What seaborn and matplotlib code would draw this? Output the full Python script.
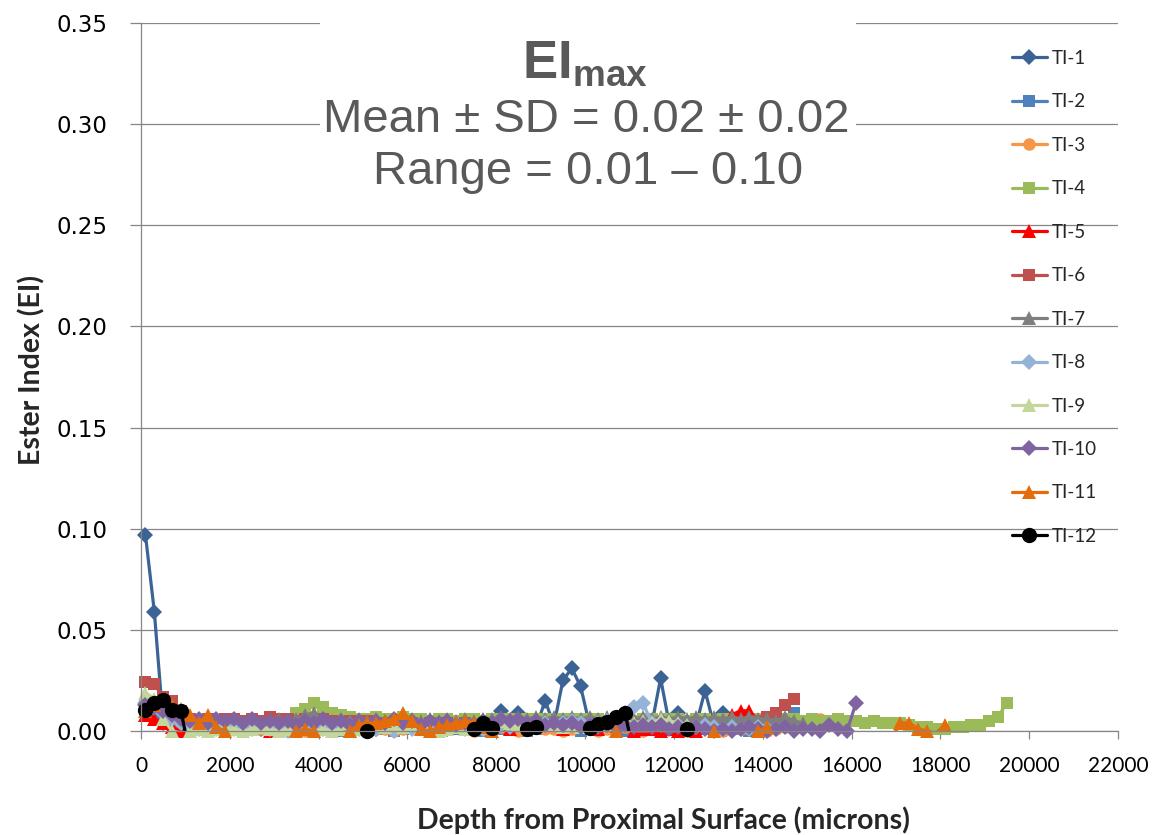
import matplotlib
matplotlib.use("Agg")
import matplotlib.pyplot as plt
from matplotlib.lines import Line2D
from matplotlib.patches import Rectangle
import numpy as np
import seaborn as sns

# ---------------- data ----------------
depth = [100, 300, 500, 700, 900, 1100, 1300, 1500, 1700, 1900,
         2100, 2300, 2500, 2700, 2900, 3100, 3300, 3500, 3700, 3900,
         4100, 4300, 4500, 4700, 4900, 5100, 5300, 5500, 5700, 5900,
         6100, 6300, 6500, 6700, 6900, 7100, 7300, 7500, 7700, 7900,
         8100, 8300, 8500, 8700, 8900, 9100, 9300, 9500, 9700, 9900,
         10100, 10300, 10500, 10700, 10900, 11100, 11300, 11500, 11700, 11900,
         12100, 12300, 12500, 12700, 12900, 13100, 13300, 13500, 13700, 13900,
         14100, 14300, 14500, 14700, 14900, 15100, 15300, 15500, 15700, 15900,
         16100, 16300, 16500, 16700, 16900, 17100, 17300, 17500, 17700, 17900,
         18100, 18300, 18500, 18700, 18900, 19100, 19300, 19500]

series_names = ["TI-1", "TI-2", "TI-3", "TI-4", "TI-5", "TI-6",
                "TI-7", "TI-8", "TI-9", "TI-10", "TI-11", "TI-12"]

ti1 = [0.097, 0.059, 0.004, 0.002, 0.003, 0.002, 0.003, 0.002, 0.002, 0.003,
       0.002, 0.003, 0.002, 0.001, 0.002, 0.003, 0.002, 0.002, 0.003, 0.002,
       0.002, 0.001, 0.002, 0.003, 0.002, 0.002, 0.001, 0.002, 0.003, 0.002,
       0.002, 0.003, 0.002, 0.002, 0.001, 0.002, 0.003, 0.002, 0.002, 0.003,
       0.010, 0.003, 0.009, 0.003, 0.002, 0.015, 0.003, 0.025, 0.031, 0.022,
       0.003, 0.002, 0.003, 0.002, 0.002, 0.003, 0.002, 0.003, 0.026, 0.003,
       0.009, 0.003, 0.003, 0.020, 0.003, 0.009, 0.002]

ti2 = [0.012, 0.009, 0.006, 0.004, 0.002, 0.001, 0.002, 0.000, 0.001, 0.002,
       0.001, 0.000, 0.002, 0.001, 0.001, 0.003, 0.001, 0.000, 0.002, 0.001,
       0.002, 0.001, 0.000, 0.001, 0.002, 0.001, 0.003, 0.001, 0.000, 0.001,
       0.002, 0.001, 0.001, 0.000, 0.002, 0.001, 0.001, 0.002, 0.000, 0.001,
       0.001, 0.002, 0.001, 0.000, 0.001, 0.002, 0.003, 0.001, 0.001, 0.000,
       0.001, 0.002, 0.001, 0.001, 0.000, 0.002, 0.001, 0.001, 0.002, 0.001,
       0.000, 0.001, 0.002, 0.001, 0.000, 0.001, 0.002, 0.001, 0.000, 0.001,
       0.001, 0.002, 0.003, 0.009]

ti3 = [0.010, 0.012, 0.011, 0.008, 0.004, 0.002, 0.001, 0.002, 0.001, 0.000,
       0.001, 0.002, 0.001, 0.001, 0.000, 0.001, 0.002, 0.001, 0.000, 0.001,
       0.001, 0.002, 0.001, 0.000, 0.001, 0.002, 0.001, 0.001, 0.000, 0.001,
       0.002, 0.001, 0.000, 0.001, 0.001, 0.002, 0.001, 0.000, 0.001, 0.001,
       0.002, 0.001, 0.000, 0.001, 0.002, 0.001, 0.001, 0.000, 0.001, 0.002,
       0.001, 0.000, 0.001, 0.001, 0.002, 0.001, 0.000, 0.001, 0.002, 0.001,
       0.001, 0.000, 0.001, 0.002, 0.001, 0.000, 0.001, 0.001, 0.002, 0.001,
       0.000, 0.001, 0.002, 0.001, 0.002, 0.003, 0.006, 0.003, 0.002]

ti4 = [0.013, 0.012, 0.011, 0.009, 0.006, 0.005, 0.005, 0.004, 0.005, 0.004,
       0.005, 0.004, 0.005, 0.004, 0.005, 0.005, 0.006, 0.009, 0.011, 0.014,
       0.012, 0.009, 0.008, 0.007, 0.006, 0.006, 0.007, 0.006, 0.006, 0.007,
       0.006, 0.006, 0.005, 0.006, 0.006, 0.005, 0.006, 0.006, 0.005, 0.006,
       0.006, 0.006, 0.005, 0.006, 0.006, 0.006, 0.005, 0.006, 0.006, 0.006,
       0.006, 0.006, 0.005, 0.006, 0.006, 0.005, 0.006, 0.006, 0.005, 0.006,
       0.006, 0.005, 0.006, 0.006, 0.005, 0.006, 0.006, 0.005, 0.006, 0.006,
       0.006, 0.005, 0.006, 0.006, 0.005, 0.006, 0.005, 0.005, 0.006, 0.005,
       0.005, 0.004, 0.005, 0.004, 0.004, 0.004, 0.003, 0.002, 0.002, 0.001,
       0.001, 0.002, 0.002, 0.003, 0.003, 0.005, 0.007, 0.014]

ti5 = [0.008, 0.006, 0.004, 0.002, 0.000, -0.002, -0.003, -0.004, -0.004, -0.003,
       -0.004, -0.003, -0.002, -0.001, 0.000, -0.001, -0.003, -0.004, -0.004, -0.004,
       -0.004, -0.004, -0.003, -0.004, -0.004, -0.004, -0.004, -0.003, -0.004, -0.004,
       -0.004, -0.003, -0.002, -0.001, -0.002, -0.003, -0.004, -0.004, -0.003, -0.002,
       -0.001, 0.001, 0.006, 0.004, 0.003, 0.005, 0.003, 0.001, -0.001, -0.002,
       -0.001, 0.001, -0.001, -0.002, -0.001, 0.000, 0.001, 0.001, 0.000, 0.001,
       0.000, -0.001, 0.000, 0.002, 0.003, 0.004, 0.008, 0.010, 0.010, 0.005,
       0.004, 0.003]

ti6 = [0.024, 0.023, 0.017, 0.015, 0.010, 0.006, 0.005, 0.006, 0.005, 0.006,
       0.006, 0.005, 0.006, 0.005, 0.007, 0.006, 0.006, 0.005, 0.006, 0.005,
       0.006, 0.005, 0.004, 0.005, 0.004, 0.005, 0.004, 0.003, 0.004, 0.003,
       0.004, 0.003, 0.004, 0.003, 0.004, 0.003, 0.004, 0.003, 0.003, 0.004,
       0.003, 0.004, 0.003, 0.003, 0.004, 0.003, 0.003, 0.004, 0.003, 0.003,
       0.004, 0.003, 0.003, 0.002, 0.003, 0.003, 0.002, 0.003, 0.003, 0.002,
       0.003, 0.002, 0.003, 0.003, 0.002, 0.003, 0.003, 0.004, 0.004, 0.005,
       0.007, 0.009, 0.013, 0.016]

ti7 = [0.016, 0.014, 0.012, 0.010, 0.007, 0.004, 0.005, 0.004, 0.005, 0.004,
       0.005, 0.004, 0.005, 0.004, 0.005, 0.006, 0.005, 0.006, 0.008, 0.009,
       0.006, 0.005, 0.006, 0.005, 0.006, 0.005, 0.006, 0.005, 0.006, 0.005,
       0.006, 0.005, 0.006, 0.005, 0.006, 0.005, 0.006, 0.005, 0.006, 0.006,
       0.007, 0.006, 0.007, 0.006, 0.007, 0.006, 0.007, 0.006, 0.007, 0.006,
       0.007, 0.006, 0.007, 0.006, 0.007, 0.006, 0.007, 0.006, 0.007, 0.006,
       0.007, 0.006, 0.007, 0.006, 0.007, 0.006, 0.007, 0.006, 0.007, 0.006,
       0.006, 0.005, 0.007, 0.005, 0.004]

ti8 = [0.014, 0.012, 0.009, 0.006, 0.004, 0.002, 0.001, 0.002, 0.001, 0.002,
       0.001, 0.003, 0.001, 0.002, 0.001, 0.002, 0.000, 0.002, 0.001, 0.002,
       0.001, 0.002, 0.001, 0.003, 0.001, 0.002, 0.001, 0.002, 0.000, 0.002,
       0.001, 0.002, 0.001, 0.002, 0.001, 0.003, 0.001, 0.002, 0.001, 0.002,
       0.003, 0.002, 0.003, 0.002, 0.003, 0.004, 0.003, 0.004, 0.005, 0.004,
       0.003, 0.004, 0.005, 0.006, 0.009, 0.012, 0.014, 0.004, 0.003, 0.002,
       0.003, 0.002, 0.002, 0.003, 0.002, 0.001, 0.002, 0.001, 0.001, 0.002,
       0.001, 0.001]

ti9 = [0.019, 0.016, 0.006, 0.000, -0.001, 0.000, 0.001, 0.000, 0.001, 0.002,
       0.001, 0.000, 0.001, 0.002, 0.001, 0.000, 0.001, 0.002, 0.001, 0.000,
       0.001, 0.000, 0.001, 0.000, 0.001, 0.002, 0.003, 0.002, 0.003, 0.002,
       0.003, 0.002, 0.001, 0.000, 0.001, 0.002, 0.001, 0.002, 0.003, 0.004,
       0.005, 0.004, 0.003, 0.004, 0.003, 0.004, 0.003, 0.002, 0.003, 0.002,
       0.003, 0.004, 0.003, 0.004, 0.005, 0.004, 0.005, 0.004, 0.006, 0.005,
       0.004, 0.003]

ti10 = [0.013, 0.012, 0.010, 0.008, 0.006, 0.005, 0.006, 0.004, 0.006, 0.005,
        0.006, 0.004, 0.006, 0.004, 0.005, 0.004, 0.005, 0.003, 0.005, 0.004,
        0.006, 0.004, 0.005, 0.003, 0.005, 0.003, 0.005, 0.004, 0.006, 0.004,
        0.005, 0.003, 0.005, 0.004, 0.005, 0.003, 0.004, 0.003, 0.005, 0.004,
        0.006, 0.005, 0.006, 0.004, 0.005, 0.003, 0.004, 0.003, 0.004, 0.002,
        0.003, 0.002, 0.003, 0.002, 0.003, 0.002, 0.003, 0.002, 0.003, 0.001,
        0.002, 0.001, 0.002, 0.001, 0.000, 0.001, 0.000, 0.001, 0.002, 0.001,
        0.000, 0.001, 0.002, 0.000, 0.001, 0.001, 0.000, 0.003, 0.001, 0.000,
        0.014]

ti11 = [0.010, 0.013, 0.015, 0.013, 0.011, 0.008, 0.004, 0.008, 0.002, 0.000,
        -0.002, -0.003, -0.002, -0.001, -0.002, -0.003, -0.002, 0.000, 0.001, 0.000,
        -0.002, -0.002, -0.001, 0.000, 0.003, 0.004, 0.004, 0.005, 0.006, 0.009,
        0.005, 0.001, 0.000, 0.002, 0.003, 0.004, 0.005, 0.004, 0.002, 0.000,
        -0.002, -0.003, -0.003, -0.002, -0.003, -0.003, -0.002, -0.003, -0.003, -0.002,
        -0.003, -0.003, -0.002, 0.000, -0.002, -0.003, -0.003, -0.002, -0.003, -0.003,
        -0.002, -0.003, -0.003, -0.002, 0.000, -0.002, -0.003, -0.003, -0.002, 0.000,
        0.002, -0.004, -0.006, -0.006, -0.006, -0.006, -0.006, -0.006, -0.006, -0.006,
        -0.006, -0.006, -0.006, -0.006, -0.004, 0.004, 0.004, 0.001, 0.000, -0.001,
        0.003]

ti12 = [0.0105, 0.014, 0.0155, 0.0105, 0.010, -0.012, -0.012, -0.012, -0.012, -0.012,
        -0.012, -0.012, -0.012, -0.012, -0.012, -0.012, -0.012, -0.012, -0.012, -0.012,
        -0.012, -0.012, -0.012, -0.008, -0.003, 0.000, -0.008, -0.012, -0.012, -0.012,
        -0.012, -0.012, -0.012, -0.012, -0.012, -0.012, -0.006, 0.001, 0.004, 0.0015,
        -0.006, -0.010, -0.004, 0.001, 0.002, -0.006, -0.012, -0.012, -0.012, -0.006,
        0.0015, 0.0035, 0.0045, 0.007, 0.009, -0.012, -0.012, -0.012, -0.012, -0.012,
        -0.006, 0.001, -0.008]

series_values = [ti1, ti2, ti3, ti4, ti5, ti6, ti7, ti8, ti9, ti10, ti11, ti12]

x_ticks = [0, 2000, 4000, 6000, 8000, 10000, 12000, 14000, 16000, 18000, 20000, 22000]
y_ticks = [0.00, 0.05, 0.10, 0.15, 0.20, 0.25, 0.30, 0.35]

# ---------------- styles ----------------
colors = ["#3B6396", "#4F81BD", "#F79646", "#9BBB59", "#FF0000", "#C0504D",
          "#7F7F7F", "#95B3D7", "#C3D69B", "#8064A2", "#E46C0A", "#000000"]
markers = ["D", "s", "o", "s", "^", "s", "^", "D", "^", "D", "^", "o"]
msizes = [8.0, 8.5, 9.0, 8.5, 9.5, 8.5, 9.5, 8.0, 9.5, 8.0, 9.5, 11.0]
LW = 2.3

sns.set_style("white")
plt.rcParams['font.family'] = ['Lato', 'DejaVu Sans']
plt.rcParams['mathtext.fontset'] = 'custom'
plt.rcParams['mathtext.bf'] = 'Liberation Sans:bold'
plt.rcParams['mathtext.rm'] = 'Liberation Sans'
plt.rcParams['mathtext.it'] = 'Liberation Sans:italic'

W, H = 1156, 835
fig = plt.figure(figsize=(W / 100, H / 100), dpi=100)
fig.patch.set_facecolor("white")
ax = fig.add_axes([141 / W, 1 - 731 / H, (1118 - 141) / W, (731 - 23) / H])

handles = []
for name, vals, c, m, ms in zip(series_names, series_values, colors, markers, msizes):
    xs = depth[:len(vals)]
    v = np.array(vals, dtype=float)
    # connecting line (clipped to the plot area)
    sns.lineplot(x=xs, y=v, color=c, linewidth=LW, estimator=None, sort=False, ax=ax)
    # markers, only for points inside the value range (not clipped, like Excel)
    vm = np.where(v >= 0, v, np.nan)
    sns.lineplot(x=xs, y=vm, color=c, linestyle="none", marker=m, markersize=ms,
                 markeredgewidth=0, estimator=None, sort=False, ax=ax, clip_on=False)
    handles.append(Line2D([], [], color=c, marker=m, markersize=ms, markeredgewidth=0,
                          linewidth=LW, label=name))

ax.set_xlim(0, 22000)
ax.set_ylim(0, 0.35)
ax.set_xticks(x_ticks)
ax.set_yticks(y_ticks)
ax.yaxis.set_major_formatter(matplotlib.ticker.FormatStrFormatter("%.2f"))
ax.xaxis.set_major_formatter(matplotlib.ticker.FormatStrFormatter("%d"))

gcol = "#868686"
ax.set_axisbelow(True)
ax.yaxis.grid(True, color=gcol, linewidth=0.9)
ax.xaxis.grid(False)
for s in ["top", "right"]:
    ax.spines[s].set_visible(False)
for s in ["left", "bottom"]:
    ax.spines[s].set_color(gcol)
    ax.spines[s].set_linewidth(0.9)

ax.tick_params(axis="x", direction="out", length=6, width=0.9, color=gcol,
               labelsize=15, pad=12, labelcolor="black", bottom=True)
ax.tick_params(axis="y", direction="out", length=8, width=0.9, color=gcol,
               labelsize=16.5, pad=16, labelcolor="black", left=True,
               labelfontfamily="DejaVu Sans")

ax.set_xlabel("Depth from Proximal Surface (microns)", fontsize=20.5, fontweight="bold")
ax.set_ylabel("Ester Index (EI)", fontsize=20.5, fontweight="bold")
ax.xaxis.set_label_coords((663 - 141) / 977, (731 - 806) / 708)
ax.yaxis.set_label_coords((45 - 141) / 977, (731 - 370) / 708)

# legend
leg = ax.legend(handles=handles, loc="upper left",
                bbox_to_anchor=(1012 / W, 1 - 50 / H), bbox_transform=fig.transFigure,
                frameon=False, fontsize=13.5, handlelength=1.85, handletextpad=0.25,
                labelspacing=1.41, borderpad=0, borderaxespad=0, numpoints=1)

# white box behind the annotation text
ax.add_patch(Rectangle((320 / W, 1 - 196 / H), (856 - 320) / W, (196 - 12) / H,
                       transform=fig.transFigure, facecolor="white", edgecolor="none",
                       zorder=5, clip_on=False))

tcol = "#595959"
fig.text(585 / W, 1 - 78 / H, r"$\mathbf{EI}_{\mathbf{max}}$", ha="center", va="baseline",
         fontsize=38, color=tcol)
fig.text(586 / W, 1 - 132 / H, "Mean ± SD = 0.02 ± 0.02", ha="center", va="baseline",
         fontsize=34, color=tcol, family="Liberation Sans")
fig.text(588 / W, 1 - 184 / H, "Range = 0.01 – 0.10", ha="center", va="baseline",
         fontsize=34, color=tcol, family="Liberation Sans")

fig.savefig("out.png", dpi=100, facecolor="white")
